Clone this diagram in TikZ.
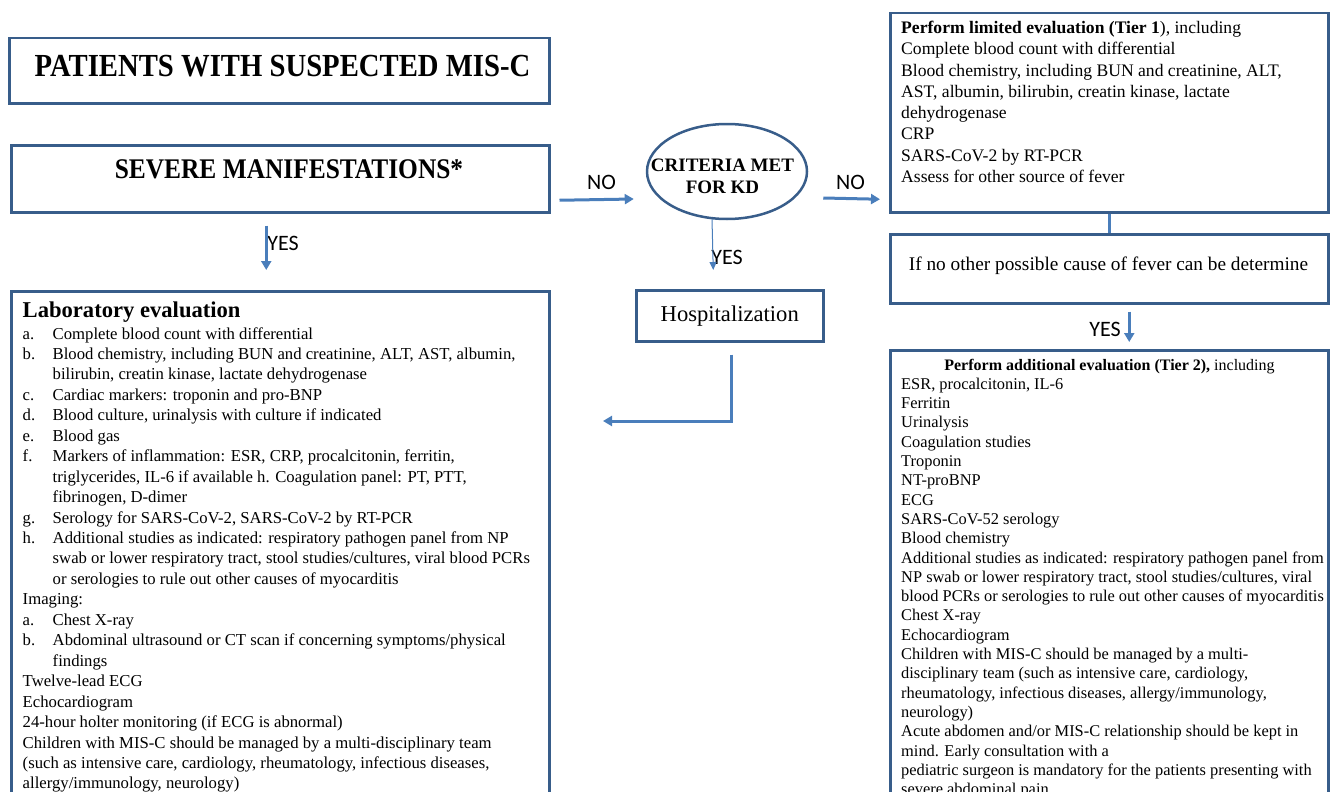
\documentclass[tikz,border=0pt]{standalone}
\usepackage{fontspec}
\setmainfont{Liberation Serif}
\newfontfamily\calfont{Carlito}
\usetikzlibrary{arrows.meta,shapes.geometric,calc}
\definecolor{boxblue}{RGB}{56,93,138}
\definecolor{arrblue}{RGB}{74,126,187}
\newcommand{\txtblock}[4]{\parbox[t]{#1}{\fontsize{#2}{#3}\selectfont\raggedright #4}}
\newcommand{\lbl}[1]{\makebox[30pt][l]{#1}}
\newcommand{\ind}{\hspace*{30pt}}
\begin{document}
\begin{tikzpicture}[x=1pt,y=-1pt,
  box/.style={draw=boxblue,line width=2.5pt,rectangle,inner sep=0pt,anchor=north west},
  txt/.style={inner sep=0pt,anchor=base west},
  yn/.style={inner sep=0pt,font=\calfont\fontsize{22}{24}\selectfont},
  arr/.style={draw=arrblue,line width=3pt,-{Triangle[length=9pt,width=10pt]}},
  thinarr/.style={draw=arrblue,line width=1pt,-{Triangle[length=8pt,width=7pt]}},
  link/.style={draw=arrblue,line width=3pt}]
\useasboundingbox (0,0) rectangle (1330,792);
\clip (0,0) rectangle (1330,792);

% boxes
\node[box,minimum width=540pt,minimum height=65pt] (title) at (8,37) {};
\node[box,minimum width=538pt,minimum height=67pt] (severe) at (10,144) {};
\node[box,minimum width=538pt,minimum height=520pt] (lab) at (10,290) {};
\node[draw=boxblue,line width=2.5pt,ellipse,inner sep=0pt,minimum width=160pt,minimum height=95pt] (kd) at (727,171.5) {};
\node[box,minimum width=187pt,minimum height=51pt,font=\fontsize{22.6}{26}\selectfont] (hosp) at (635,289) {Hospitalization};
\node[box,minimum width=438pt,minimum height=199pt] (tier1) at (889,12) {};
\node[box,minimum width=438pt,minimum height=69pt] (ifno) at (889,233) {};
\node[box,minimum width=438pt,minimum height=461pt] (tier2) at (889,349) {};

% texts
\node[inner sep=0pt,anchor=base,font=\fontsize{28.7}{32}\selectfont\bfseries] (titletext) at (282.5,76) {\scalebox{1}[1.12]{PATIENTS WITH SUSPECTED MIS-C}};
\node[inner sep=0pt,anchor=base,font=\fontsize{25.4}{28}\selectfont\bfseries] (severetext) at (289,178) {\scalebox{1}[1.12]{SEVERE MANIFESTATIONS*}};
\node[inner sep=0pt,anchor=base] (kdtext) at (722.5,171.7) {\parbox[t]{170pt}{\centering\fontsize{19}{21.5}\selectfont\bfseries CRITERIA MET\\FOR KD}};
\node[inner sep=0pt,anchor=base,font=\fontsize{19.3}{22}\selectfont] (ifnotext) at (1108.5,270) {If no other possible cause of fever can be determine};

\node[txt] (tier1text) at (901,33.5) {\txtblock{425pt}{17.6}{21.3}{%
\textbf{Perform limited evaluation (Tier 1}), including\\
Complete blood count with differential\\
Blood chemistry, including BUN and creatinine, ALT,\\
AST, albumin, bilirubin, creatin kinase, lactate\\
dehydrogenase\\
CRP\\
SARS-CoV-2 by RT-PCR\\
Assess for other source of fever}};

\node[inner sep=0pt,anchor=base,font=\fontsize{16}{19.3}\selectfont] (tier2head) at (1109.5,370) {\textbf{Perform additional evaluation (Tier 2),} including};
\node[txt] (tier2text) at (901,389.3) {\txtblock{440pt}{16.4}{19.3}{%
ESR, procalcitonin, IL-6\\
Ferritin\\
Urinalysis\\
Coagulation studies\\
Troponin\\
NT-proBNP\\
ECG\\
SARS-CoV-52 serology\\
Blood chemistry\\
Additional studies as indicated: respiratory pathogen panel from\\
NP swab or lower respiratory tract, stool studies/cultures, viral\\
blood PCRs or serologies to rule out other causes of myocarditis\\
Chest X-ray\\
Echocardiogram\\
Children with MIS-C should be managed by a multi-\\
disciplinary team (such as intensive care, cardiology,\\
rheumatology, infectious diseases, allergy/immunology,\\
neurology)\\
Acute abdomen and/or MIS-C relationship should be kept in\\
mind. Early consultation with a\\
pediatric surgeon is mandatory for the patients presenting with\\
severe abdominal pain}};

\node[txt,font=\fontsize{22.6}{26}\selectfont\bfseries] (labhead) at (22.5,317) {Laboratory evaluation};
\node[txt] (labtext) at (22.5,339) {\txtblock{560pt}{16.7}{20.45}{%
\lbl{a.}Complete blood count with differential\\
\lbl{b.}Blood chemistry, including BUN and creatinine, ALT, AST, albumin,\\
\ind bilirubin, creatin kinase, lactate dehydrogenase\\
\lbl{c.}Cardiac markers: troponin and pro-BNP\\
\lbl{d.}Blood culture, urinalysis with culture if indicated\\
\lbl{e.}Blood gas\\
\lbl{f.}Markers of inflammation: ESR, CRP, procalcitonin, ferritin,\\
\ind triglycerides, IL-6 if available h. Coagulation panel: PT, PTT,\\
\ind fibrinogen, D-dimer\\
\lbl{g.}Serology for SARS-CoV-2, SARS-CoV-2 by RT-PCR\\
\lbl{h.}Additional studies as indicated: respiratory pathogen panel from NP\\
\ind swab or lower respiratory tract, stool studies/cultures, viral blood PCRs\\
\ind or serologies to rule out other causes of myocarditis\\
Imaging:\\
\lbl{a.}Chest X-ray\\
\lbl{b.}Abdominal ultrasound or CT scan if concerning symptoms/physical\\
\ind findings\\
Twelve-lead ECG\\
Echocardiogram\\
24-hour holter monitoring (if ECG is abnormal)\\
Children with MIS-C should be managed by a multi-disciplinary team\\
(such as intensive care, cardiology, rheumatology, infectious diseases,\\
allergy/immunology, neurology)}};

% labels
\node[yn] (yes1) at (283,243) {YES};
\node[yn] (no1) at (601.5,182.5) {NO};
\node[yn] (no2) at (850.5,182.5) {NO};
\node[yn] (yes2) at (727,257) {YES};
\node[yn] (yes3) at (1105,329) {YES};

% connectors
\coordinate (hospend) at (603,421);
\draw[arr] ([shift={(-14,12)}]severe.south) -- ([shift={(-14,-20)}]lab.north);
\draw[arr] ([shift={(9,21.5)}]severe.east) -- ([shift={(-12,27.5)}]kd.west);
\draw[arr] ([shift={(15,26.5)}]kd.east) -- ([shift={(-9,86.5)}]tier1.west);
\draw[thinarr] ([shift={(-15,-1)}]kd.south) -- ([shift={(-16.5,-19)}]hosp.north);
\draw[arr] ([shift={(1.5,12)}]hosp.south) |- (hospend);
\draw[link] (tier1.south) -- (ifno.north);
\draw[arr] ([shift={(20,7)}]ifno.south) -- ([shift={(20,-7)}]tier2.north);
\end{tikzpicture}
\end{document}
